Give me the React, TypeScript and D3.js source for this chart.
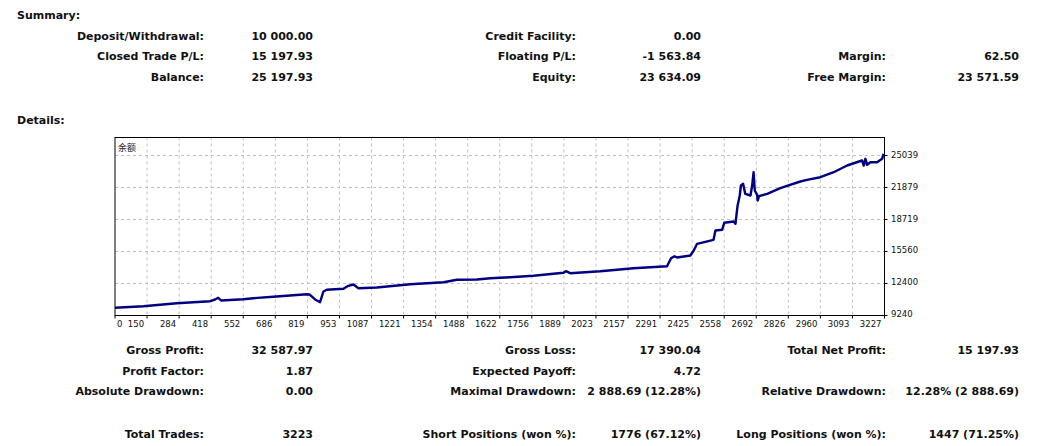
import React from "react";
import * as d3 from "d3";

const tradeNo = [0,119,259,399,420,433,445,538,580,678,804,818,839,860,874,888,958,975,1000,1021,1098,1238,1378,1434,1518,1574,1657,1755,1881,1891,1909,2035,2175,2315,2332,2346,2357,2413,2427,2441,2510,2518,2546,2555,2594,2602,2606,2611,2620,2625,2634,2643,2665,2672,2678,2683,2693,2695,2701,2735,2790,2874,2902,2958,3014,3070,3133,3140,3147,3154,3168,3196,3217,3223];
const balance = [10000,10158,10454,10652,10820,10988,10721,10849,10948,11116,11343,11284,10820,10553,11610,11778,11876,12133,12301,11936,12005,12331,12528,12765,12795,12923,13022,13160,13456,13614,13417,13614,13910,14108,14898,15095,14967,15164,15658,16320,16715,17633,17702,18393,18522,18294,19114,20101,21089,22076,22244,21257,21089,22076,23389,21583,21158,20595,21020,21257,21810,22471,22639,22896,23389,24051,24545,24051,24713,24120,24377,24377,24713,25198];

const xTickLabels = ["0","150","284","418","552","686","819","953","1087","1221","1354","1488","1622","1756","1889","2023","2157","2291","2425","2558","2692","2826","2960","3093","3227"];
const yTickValues = [9240,12400,15560,18719,21879,25039];

const summaryRows = [
  ["Deposit/Withdrawal:", "10 000.00", "Credit Facility:", "0.00", "", ""],
  ["Closed Trade P/L:", "15 197.93", "Floating P/L:", "-1 563.84", "Margin:", "62.50"],
  ["Balance:", "25 197.93", "Equity:", "23 634.09", "Free Margin:", "23 571.59"],
];
const detailRows = [
  ["Gross Profit:", "32 587.97", "Gross Loss:", "17 390.04", "Total Net Profit:", "15 197.93"],
  ["Profit Factor:", "1.87", "Expected Payoff:", "4.72", "", ""],
  ["Absolute Drawdown:", "0.00", "Maximal Drawdown:", "2 888.69 (12.28%)", "Relative Drawdown:", "12.28% (2 888.69)"],
  ["Total Trades:", "3223", "Short Positions (won %):", "1776 (67.12%)", "Long Positions (won %):", "1447 (71.25%)"],
];

const W = 1049, H = 446;
const L = 115, R = 884.5, T = 137.5, B = 315.5;
const colX = [204, 313, 576, 701, 886, 1019];
const summaryY = [36, 56.7, 77.3];
const detailY = [350, 371, 391.7, 434];

const boldFont = "'DejaVu Sans', sans-serif";
const axisFont = "'DejaVu Sans', sans-serif";

export default function App() {
  const x = d3.scaleLinear().domain([0, 3227]).range([L, R]);
  const xg = d3.scaleLinear().domain([0, xTickLabels.length - 1]).range([L, R]);
  const y = d3.scaleLinear().domain([9240, 25039]).range([B, 155.5]);
  const line = d3.line<number>().x((_, i) => x(tradeNo[i])).y((d) => y(d));

  const renderRows = (rows: string[][], ys: number[]) =>
    rows.map((r, ri) =>
      r.map((t, ci) =>
        t ? (
          <text key={ri + "-" + ci} x={colX[ci]} y={ys[ri]} textAnchor="end" dominantBaseline="central"
            fontFamily={boldFont} fontWeight="bold" fontSize={11} fill="#111">{t}</text>
        ) : null
      )
    );

  return (
    <svg width={W} height={H} style={{ position: "absolute", left: 0, top: 0, background: "#fff" }}>
      <text x={17} y={15} dominantBaseline="central" fontFamily={boldFont} fontWeight="bold" fontSize={11} fill="#111">Summary:</text>
      {renderRows(summaryRows, summaryY)}
      <text x={17} y={120} dominantBaseline="central" fontFamily={boldFont} fontWeight="bold" fontSize={11} fill="#111">Details:</text>

      {/* grid */}
      {xTickLabels.map((_, i) => i > 0 && i < xTickLabels.length - 1 ? (
        <line key={"gx" + i} x1={xg(i)} x2={xg(i)} y1={T} y2={B} stroke="#c0c0c0" strokeDasharray="3,3" />
      ) : null)}
      {yTickValues.map((v, i) => i > 0 ? (
        <line key={"gy" + i} x1={L} x2={R} y1={y(v)} y2={y(v)} stroke="#c0c0c0" strokeDasharray="3,3" />
      ) : null)}

      {/* ticks */}
      {xTickLabels.map((_, i) => (
        <line key={"tx" + i} x1={xg(i)} x2={xg(i)} y1={B} y2={B + 3} stroke="#000" />
      ))}
      {yTickValues.map((v, i) => (
        <line key={"ty" + i} x1={R} x2={R + 3} y1={y(v)} y2={y(v)} stroke="#000" />
      ))}

      <rect x={L} y={T} width={R - L} height={B - T} fill="none" stroke="#000" />

      <path d={line(balance) || ""} fill="none" stroke="#000080" strokeWidth={2.4} strokeLinejoin="round" />

      <text x={118} y={147.5} dominantBaseline="central" fontFamily="'Noto Sans CJK SC', sans-serif" fontSize={9} fill="#222">余额</text>

      {xTickLabels.map((t, i) => (
        <text key={"lx" + i} x={i === 0 ? L + 2 : xg(i) - 3} y={324} textAnchor={i === 0 ? "start" : "end"}
          dominantBaseline="central" fontFamily={axisFont} fontSize={8.5} fill="#111">{t}</text>
      ))}
      {yTickValues.map((v, i) => (
        <text key={"ly" + i} x={891} y={i === 0 ? y(v) - 2 : y(v) - 1} dominantBaseline="central"
          fontFamily={axisFont} fontSize={8.5} fill="#111">{String(v)}</text>
      ))}

      {renderRows(detailRows, detailY)}
    </svg>
  );
}
